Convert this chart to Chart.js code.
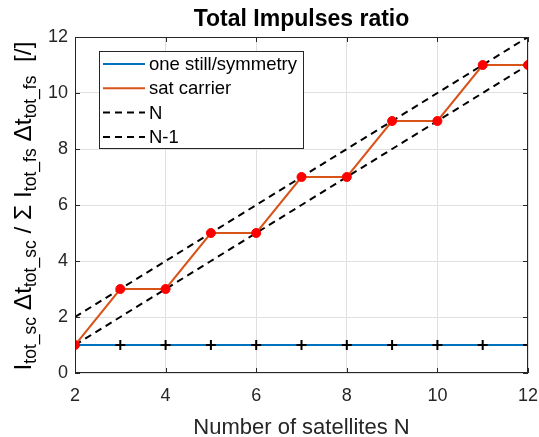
<!DOCTYPE html>
<html><head><meta charset="utf-8">
<script src="https://cdn.jsdelivr.net/npm/chart.js@4.4.0/dist/chart.umd.min.js"></script>
<style>html,body{margin:0;padding:0;background:#fff}#wrap{width:539px;height:437px}</style>
</head><body><div id="wrap"><canvas id="c" width="539" height="437"></canvas></div>
<script>
const satellites = [2,3,4,5,6,7,8,9,10,11,12];
const oneStill = [1,1,1,1,1,1,1,1,1,1,1];
const satCarrier = [1,3,3,5,5,7,7,9,9,11,11];
const lineN = [2,3,4,5,6,7,8,9,10,11,12];
const lineNminus1 = [1,2,3,4,5,6,7,8,9,10,11];
const xTicks = [2,4,6,8,10,12];
const yTicks = [0,2,4,6,8,10,12];
const seriesNames = ['one still/symmetry','sat carrier','N','N-1'];

const FONT = 'Liberation Sans, Arial, Helvetica, sans-serif';
const AX = '#262626';
const pts = (ys) => satellites.map((x,i)=>({x:x,y:ys[i]}));

const legendPlugin = {
  id:'customLegend',
  afterDraw(chart){
    const ctx = chart.ctx;
    ctx.save();
    const bx=99, by=51, bw=204, bh=97;
    ctx.fillStyle='#fff'; ctx.fillRect(bx,by,bw,bh);
    ctx.strokeStyle=AX; ctx.lineWidth=1; ctx.strokeRect(bx+0.5,by+0.5,bw,bh);
    const ds = chart.data.datasets;
    ctx.font='18.5px '+FONT; ctx.textBaseline='middle'; ctx.textAlign='left';
    ds.forEach((d,i)=>{
      const y = by+13+i*24.3;
      ctx.beginPath(); ctx.strokeStyle=d.borderColor; ctx.lineWidth=2;
      ctx.setLineDash(d.borderDash||[]);
      ctx.moveTo(103,y); ctx.lineTo(145,y); ctx.stroke();
      ctx.setLineDash([]);
      ctx.fillStyle='#000'; ctx.fillText(d.label,149,y+1);
    });
    ctx.restore();
  }
};

const frameTitlePlugin = {
  id:'frameTitle',
  afterDraw(chart){
    const ctx=chart.ctx, a=chart.chartArea;
    const xs=chart.scales.x, ys=chart.scales.y;
    ctx.save();
    ctx.strokeStyle=AX; ctx.lineWidth=1;
    ctx.strokeRect(Math.round(a.left)+0.5, Math.round(a.top)+0.5, Math.round(a.right-a.left)-1, Math.round(a.bottom-a.top)-1);
    ctx.beginPath();
    xTicks.forEach(v=>{const px=Math.round(xs.getPixelForValue(v))+0.5;
      ctx.moveTo(px,a.bottom); ctx.lineTo(px,a.bottom-5); ctx.moveTo(px,a.top); ctx.lineTo(px,a.top+5);});
    yTicks.forEach(v=>{const py=Math.round(ys.getPixelForValue(v))+0.5;
      ctx.moveTo(a.left,py); ctx.lineTo(a.left+5,py); ctx.moveTo(a.right,py); ctx.lineTo(a.right-5,py);});
    ctx.stroke();
    const cx=(a.left+a.right)/2;
    ctx.fillStyle='#000'; ctx.font='bold 23px '+FONT; ctx.textAlign='center'; ctx.textBaseline='middle';
    ctx.fillText('Total Impulses ratio',cx,20);
    ctx.fillStyle=AX; ctx.font='22px '+FONT; ctx.textBaseline='alphabetic';
    ctx.fillText('Number of satellites N',cx,434);
    ctx.fillStyle='#000';
    const parts=[
      ['I',0],['tot_sc',1],[' \u0394t',0],['tot_sc',1],[' / \u03A3 I',0],['tot_fs',1],[' \u0394t',0],['tot_fs',1],['  [/]',0]
    ];
    const big='24.5px '+FONT, small='17.5px '+FONT;
    let total=0;
    parts.forEach(p=>{ctx.font=p[1]?small:big; total+=ctx.measureText(p[0]).width;});
    ctx.translate(31,206);
    ctx.rotate(-Math.PI/2);
    ctx.textAlign='left'; ctx.textBaseline='alphabetic';
    let x=-total/2;
    parts.forEach(p=>{ctx.font=p[1]?small:big; ctx.fillText(p[0],x,p[1]?5:0); x+=ctx.measureText(p[0]).width;});
    ctx.restore();
  }
};

new Chart(document.getElementById('c'),{
  type:'line',
  data:{datasets:[
    {label:seriesNames[0],data:pts(oneStill),borderColor:'#0072BD',borderWidth:2,pointStyle:'cross',pointRadius:5,pointBorderWidth:2,pointBorderColor:'#000',pointBackgroundColor:'#000',order:2},
    {label:seriesNames[1],data:pts(satCarrier),borderColor:'#D95319',borderWidth:2,pointStyle:'circle',pointRadius:4.5,pointBorderWidth:1,pointBorderColor:'#ff0000',pointBackgroundColor:'#ff0000',order:1},
    {label:seriesNames[2],data:pts(lineN),borderColor:'#000',borderWidth:2,borderDash:[7,5],pointRadius:0,order:3},
    {label:seriesNames[3],data:pts(lineNminus1),borderColor:'#000',borderWidth:2,borderDash:[7,5],pointRadius:0,order:3}
  ]},
  options:{
    responsive:false,animation:false,
    layout:{padding:{top:37,right:11,left:0,bottom:0}},
    plugins:{legend:{display:false},tooltip:{enabled:false},title:{display:false}},
    scales:{
      x:{type:'linear',min:2,max:12,
        afterBuildTicks:(s)=>{s.ticks=xTicks.map(v=>({value:v}));},
        afterFit:(s)=>{s.height=64;s.paddingLeft=0;s.paddingRight=0;},
        grid:{color:'#e0e0e0',drawTicks:false},border:{display:false},
        ticks:{font:{family:FONT,size:18},color:AX,padding:12,maxRotation:0}
      },
      y:{type:'linear',min:0,max:12,
        afterBuildTicks:(s)=>{s.ticks=yTicks.map(v=>({value:v}));},
        afterFit:(s)=>{s.width=75;s.paddingTop=0;s.paddingBottom=0;},
        grid:{color:'#e0e0e0',drawTicks:false},border:{display:false},
        ticks:{font:{family:FONT,size:18},color:AX,padding:7}
      }
    }
  },
  plugins:[frameTitlePlugin,legendPlugin]
});
</script></body></html>
